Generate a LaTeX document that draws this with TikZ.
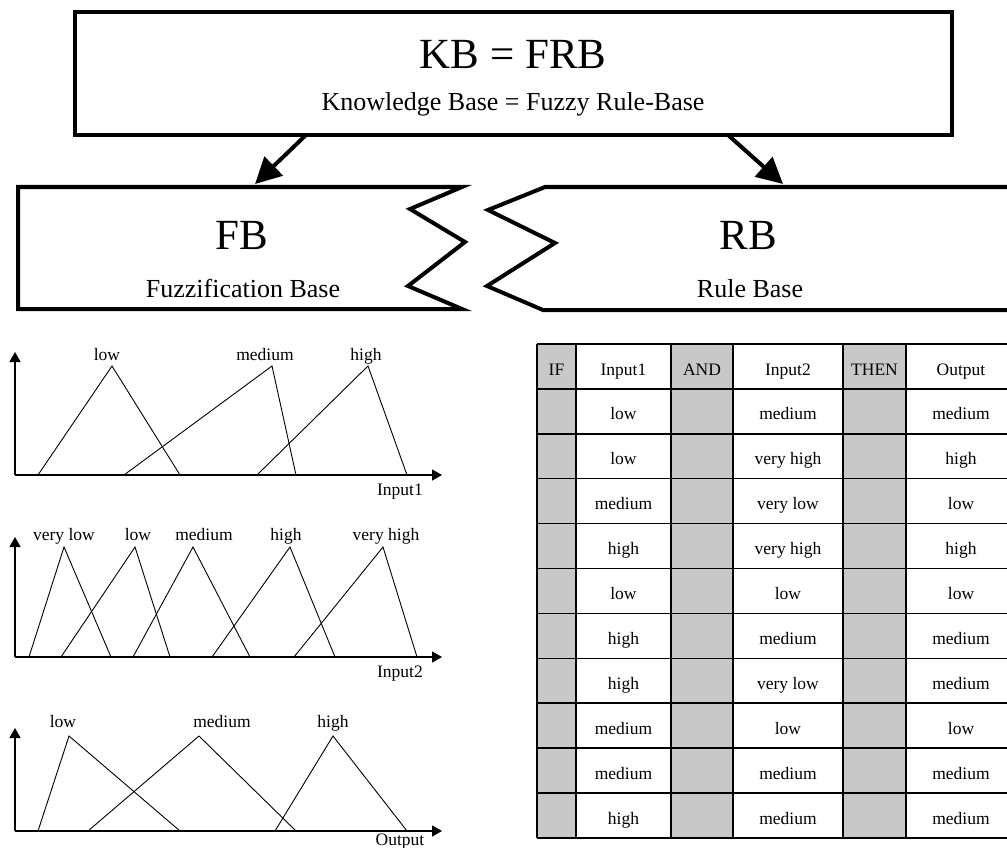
\documentclass[tikz,border=0pt]{standalone}
\usepackage{fontspec}
\setmainfont{Liberation Serif}
\usetikzlibrary{arrows.meta}
\begin{document}
\begin{tikzpicture}[x=1pt,y=-1pt,
  boxline/.style={line width=4pt, line join=miter},
  bigarrow/.style={line width=4pt, -{Triangle[length=26pt,width=26pt]}},
  axis/.style={line width=1.3pt, -{Triangle[length=10pt,width=11pt]}},
  mf/.style={line width=0.9pt},
  lbl/.style={inner sep=0pt, anchor=base, font=\fontsize{17.5}{20}\selectfont},
  bigtitle/.style={inner sep=0pt, anchor=base, font=\fontsize{43}{50}\selectfont},
  subtitle/.style={inner sep=0pt, anchor=base, font=\fontsize{26}{30}\selectfont},
  cell/.style={inner sep=0pt, anchor=base, font=\fontsize{17.5}{20}\selectfont},
  tline/.style={line width=1.5pt},
  greycell/.style={fill=tgrey},
]
\definecolor{tgrey}{HTML}{C8C8C8}
\clip (0,0) rectangle (1007,848);
\fill[white] (0,0) rectangle (1007,848);

% ---- top box ----
\node[draw, boxline, minimum width=877pt, minimum height=123pt, inner sep=0pt] (kb) at (513.5,73.5) {};
\node[bigtitle] (kbt) at (513,69) {KB = FRB};
\node[subtitle] (kbs) at (513,111) {Knowledge Base = Fuzzy Rule-Base};

% ---- FB and RB boxes ----
\draw[boxline] (462,187) -- (18,187) -- (18,309) -- (462,309) -- (408,286) -- (465,242) -- (410,209) -- cycle;
\draw[boxline] (1020,187) -- (545,187) -- (488,210) -- (555,243) -- (487,286) -- (543,310) -- (1020,310);
\node[bigtitle] (fbt) at (242,249) {FB};
\node[subtitle] (fbs) at (243,297) {Fuzzification Base};
\node[bigtitle] (rbt) at (748,249) {RB};
\node[subtitle] (rbs) at (750,297) {Rule Base};

% ---- arrows ----
\coordinate (a1s) at (306,135);
\coordinate (a1e) at (255,184);
\coordinate (a2s) at (728,135);
\coordinate (a2e) at (783,184);
\draw[bigarrow] (a1s) -- (a1e);
\draw[bigarrow] (a2s) -- (a2e);

% ---- chart 1 ----
\coordinate (o1) at (15,475);
\draw[axis] (o1) -- (15,352);
\draw[axis] (o1) -- (442,475);
\draw[mf] (38,475) -- (112,366) -- (180,475);
\draw[mf] (124,475) -- (272,366) -- (296,475);
\draw[mf] (257,475) -- (368,366) -- (407,475);
\node[lbl] (l1a) at (107,360) {low};
\node[lbl] (l1b) at (265,360) {medium};
\node[lbl] (l1c) at (366,360) {high};
\node[lbl] (l1x) at (400,495) {Input1};

% ---- chart 2 ----
\coordinate (o2) at (15,657);
\draw[axis] (o2) -- (15,537);
\draw[axis] (o2) -- (442,657);
\draw[mf] (29,657) -- (64,547) -- (111,657);
\draw[mf] (61,657) -- (135,547) -- (170,657);
\draw[mf] (133,657) -- (193,547) -- (250,657);
\draw[mf] (212,657) -- (290,547) -- (335,657);
\draw[mf] (294,657) -- (383,547) -- (417,657);
\node[lbl] (l2a) at (64,540) {very low};
\node[lbl] (l2b) at (138,540) {low};
\node[lbl] (l2c) at (204,540) {medium};
\node[lbl] (l2d) at (286,540) {high};
\node[lbl] (l2e) at (386,540) {very high};
\node[lbl] (l2x) at (400,677) {Input2};

% ---- chart 3 ----
\coordinate (o3) at (15,831);
\draw[axis] (o3) -- (15,728);
\draw[axis] (o3) -- (442,831);
\draw[mf] (38,831) -- (69,736) -- (180,831);
\draw[mf] (88,831) -- (199,736) -- (296,831);
\draw[mf] (275,831) -- (333,736) -- (407,831);
\node[lbl] (l3a) at (63,727) {low};
\node[lbl] (l3b) at (222,727) {medium};
\node[lbl] (l3c) at (333,727) {high};
\node[lbl] (l3x) at (400,845) {Output};

% ---- table ----
\fill[greycell] (537,344) rectangle (576,838);
\fill[greycell] (671,344) rectangle (733,838);
\fill[greycell] (843,344) rectangle (906,838);
\foreach \xx in {537,576,671,733,843,906,1016}
  \draw[tline] (\xx,344) -- (\xx,838);
\foreach \r in {0,...,11}
  \draw[tline] (537,{344+44.9*\r}) -- (1016,{344+44.9*\r});
\node[cell] (hif) at (556.5,375) {IF};
\node[cell] (hin1) at (623.5,375) {Input1};
\node[cell] (hand) at (702,375) {AND};
\node[cell] (hin2) at (788,375) {Input2};
\node[cell] (hthen) at (874.5,375) {THEN};
\node[cell] (hout) at (961,375) {Output};
\foreach \a/\b/\c [count=\r] in {low/medium/medium, low/very high/high, medium/very low/low, high/very high/high, low/low/low, high/medium/medium, high/very low/medium, medium/low/low, medium/medium/medium, high/medium/medium} {
  \node[cell, name=ra\r] at (623.5,{375+44.9*\r}) {\a};
  \node[cell, name=rb\r] at (788,{375+44.9*\r}) {\b};
  \node[cell, name=rc\r] at (961,{375+44.9*\r}) {\c};
}
\end{tikzpicture}
\end{document}
